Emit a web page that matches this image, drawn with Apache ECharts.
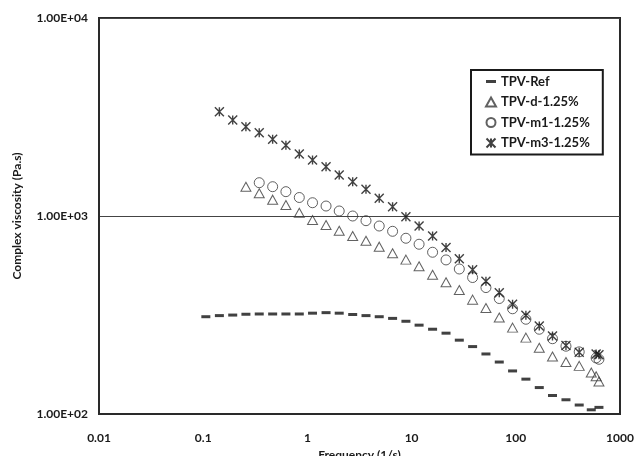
<!DOCTYPE html>
<html>
<head>
<meta charset="utf-8">
<title>Complex viscosity</title>
<script src="https://cdn.jsdelivr.net/npm/echarts@6/dist/echarts.min.js"></script>
<style>
html,body{margin:0;padding:0;background:#fff;}
#main{width:637px;height:456px;}
</style>
</head>
<body>
<div id="main"></div>
<script>
// frequency (1/s), shared by all series
var freq = [0.106, 0.143, 0.192, 0.257, 0.345, 0.464, 0.622, 0.836, 1.12, 1.51, 2.02, 2.72, 3.65, 4.89, 6.57, 8.82,
            11.8, 15.9, 21.4, 28.7, 38.5, 51.7, 69.4, 93.1, 125, 168, 225, 303, 406, 530, 590, 628];
// complex viscosity (Pa.s)
var tpvRef = [310, 314, 316, 319, 320, 320, 320, 320, 323, 325, 323, 318, 314, 310, 304, 294,
              281, 268, 256, 236, 219, 201, 183, 165, 150, 136, 124, 118, 111, 105, null, 108];
var tpvD = [null, null, null, 1406, 1302, 1209, 1136, 1039, 954, 900, 843, 793, 750, 700, 648, 602,
            557, 505, 463, 423, 378, 343, 307, 273, 243, 216, 195, 183, 175, 162, 155, 146];
var tpvM1 = [null, null, null, null, 1473, 1406, 1327, 1240, 1167, 1123, 1060, 1000, 947, 890, 837, 772,
             720, 656, 600, 540, 489, 435, 383, 340, 301, 268, 240, 220, 206, null, 192, 189];
var tpvM3 = [null, 3364, 3053, 2825, 2634, 2440, 2276, 2056, 1918, 1774, 1611, 1490, 1364, 1229, 1114, 992,
             890, 793, 693, 608, 535, 468, 410, 358, 315, 278, 248, 222, 205, null, 201, 199];

var seriesNames = ['TPV-Ref', 'TPV-d-1.25%', 'TPV-m1-1.25%', 'TPV-m3-1.25%'];
var xTickLabels = ['0.01', '0.1', '1', '10', '100', '1000'];
var yTickLabels = ['1.00E+02', '1.00E+03', '1.00E+04'];

function pairs(vals){
	var out = [];
	for(var i=0;i<freq.length;i++){
		if(vals[i]!=null) out.push([freq[i], vals[i]]);
	}
	return out;
}

var starPath = 'path://M0,0L10,10M10,0L0,10M5,0L5,10';
var labelFont = {color:'#1a1a1a', fontFamily:'Lato', fontWeight:'bold', fontSize:12};

var myChart = echarts.init(document.getElementById('main'));
var option = {
	backgroundColor:'#fff',
	animation:false,
	grid:{left:99, top:18, right:17, bottom:42, outerBoundsMode:'none', show:true, borderColor:'#2a2a2a', borderWidth:2},
	legend:{
		orient:'vertical', left:471, top:70,
		padding:[5, 13, 5, 14],
		itemWidth:10, itemHeight:9, itemGap:7.5,
		borderColor:'#1a1a1a', borderWidth:2, backgroundColor:'#fff',
		textStyle:{color:'#1a1a1a', fontFamily:'Lato', fontWeight:'bold', fontSize:13},
		data:[
			{name:seriesNames[0], icon:'path://M0,4h10v3h-10z', itemStyle:{color:'#111'}},
			{name:seriesNames[1]},
			{name:seriesNames[2]},
			{name:seriesNames[3]}
		]
	},
	xAxis:{
		type:'log', logBase:10, min:0.01, max:1000,
		name:'Frequency (1/s)', nameLocation:'middle', nameGap:33,
		nameTextStyle:labelFont,
		axisLine:{show:true, lineStyle:{color:'#2a2a2a', width:2}},
		axisTick:{show:false},
		splitLine:{show:false},
		axisLabel:Object.assign({margin:18, formatter:function(v){
			return xTickLabels[Math.round(Math.log10(v))+2];
		}}, labelFont)
	},
	yAxis:{
		type:'log', logBase:10, min:100, max:10000,
		name:'Complex viscosity (Pa.s)', nameLocation:'middle', nameGap:76,
		nameTextStyle:labelFont,
		axisLine:{show:true, lineStyle:{color:'#2a2a2a', width:2}},
		axisTick:{show:false},
		splitLine:{show:true, lineStyle:{color:'#444', width:1}},
		axisLabel:Object.assign({margin:11, formatter:function(v){
			return yTickLabels[Math.round(Math.log10(v))-2];
		}}, labelFont)
	},
	series:[
		{
			name:seriesNames[0], type:'scatter', data:pairs(tpvRef),
			symbol:'rect', symbolSize:[9,3],
			itemStyle:{color:'#111'}
		},
		{
			name:seriesNames[1], type:'scatter', data:pairs(tpvD),
			symbol:'triangle', symbolSize:[10,9],
			itemStyle:{color:'rgba(255,255,255,0)', borderColor:'#3a3a3a', borderWidth:1}
		},
		{
			name:seriesNames[2], type:'scatter', data:pairs(tpvM1),
			symbol:'circle', symbolSize:10,
			itemStyle:{color:'rgba(255,255,255,0)', borderColor:'#3a3a3a', borderWidth:1}
		},
		{
			name:seriesNames[3], type:'scatter', data:pairs(tpvM3),
			symbol:starPath, symbolSize:9,
			itemStyle:{color:'rgba(255,255,255,0)', borderColor:'#111', borderWidth:1.4}
		}
	]
};
myChart.setOption(option);
</script>
</body>
</html>
